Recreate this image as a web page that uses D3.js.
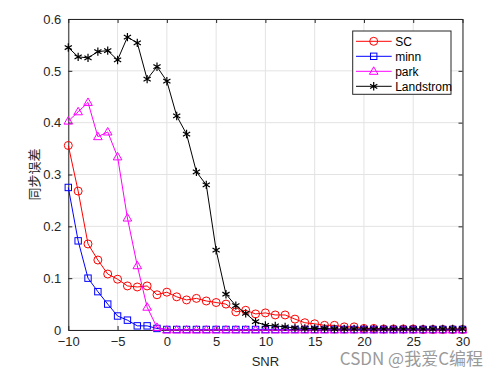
<!DOCTYPE html>
<html>
<head>
<meta charset="utf-8">
<script src="https://cdn.jsdelivr.net/npm/d3@7"></script>
<style>
  body { margin: 0; background: #fff; }
  svg { display: block; font-family: "Liberation Sans", Arial, sans-serif; }
</style>
</head>
<body>
<div id="chart"></div>
<script>
const snr = d3.range(-10, 31);

const sc = [0.356, 0.268, 0.166, 0.135, 0.108, 0.098, 0.085, 0.083, 0.085, 0.068, 0.073,
  0.064, 0.058, 0.061, 0.056, 0.053, 0.050, 0.035, 0.038, 0.031, 0.033,
  0.029, 0.029, 0.021, 0.014, 0.012, 0.009, 0.009, 0.006, 0.006, 0.003,
  0.003, 0.002, 0.002, 0.002, 0.002, 0.001, 0.001, 0.001, 0.001, 0.001];
const minn = [0.275, 0.172, 0.100, 0.074, 0.050, 0.027, 0.019, 0.008, 0.008, 0.003, 0.001,
  0.001, 0.001, 0.001, 0.001, 0.001, 0.001, 0.001, 0.001, 0.001, 0.001,
  0.001, 0.001, 0.001, 0.001, 0.001, 0.001, 0.001, 0.001, 0.001, 0.001,
  0.001, 0.001, 0.001, 0.001, 0.001, 0.001, 0.001, 0.001, 0.001, 0.001];
const park = [0.403, 0.421, 0.439, 0.373, 0.382, 0.334, 0.216, 0.124, 0.044, 0.005, 0,
  0, 0, 0, 0, 0, 0, 0, 0, 0, 0,
  0, 0, 0, 0, 0, 0, 0, 0, 0, 0,
  0, 0, 0, 0, 0, 0, 0, 0, 0, 0];
const landstrom = [0.545, 0.527, 0.525, 0.537, 0.539, 0.521, 0.565, 0.554, 0.484, 0.508, 0.480,
  0.413, 0.378, 0.305, 0.280, 0.154, 0.069, 0.047, 0.032, 0.016, 0.009,
  0.008, 0.006, 0.004, 0.003, 0.003, 0.003, 0.002, 0.002, 0.002, 0.002,
  0.002, 0.002, 0.002, 0.002, 0.002, 0.002, 0.002, 0.002, 0.002, 0.002];

const seriesNames = ["SC", "minn", "park", "Landstrom"];
const seriesColors = ["#ff0000", "#0000ff", "#ff00ff", "#000000"];
const seriesMarkers = ["circle", "square", "triangle", "asterisk"];
const xTicks = [-10, -5, 0, 5, 10, 15, 20, 25, 30];
const yTicks = [0, 0.1, 0.2, 0.3, 0.4, 0.5, 0.6];

const series = [sc, minn, park, landstrom].map((vals, i) => ({
  name: seriesNames[i], color: seriesColors[i], marker: seriesMarkers[i],
  points: vals.map((v, j) => ({ x: snr[j], y: v }))
}));

const W = 499, H = 375;
const margin = { top: 19, right: 36.5, bottom: 45, left: 68.3 };
const width = W - margin.left - margin.right;
const height = H - margin.top - margin.bottom;

const svg = d3.select("#chart").append("svg")
  .attr("width", W).attr("height", H);

const g = svg.append("g")
  .attr("transform", `translate(${margin.left},${margin.top})`);

const x = d3.scaleLinear().domain([-10, 30]).range([0, width]);
const y = d3.scaleLinear().domain([0, 0.6]).range([height, 0]);

// grid
g.append("g").selectAll("line").data(xTicks).join("line")
  .attr("x1", d => x(d)).attr("x2", d => x(d))
  .attr("y1", 0).attr("y2", height)
  .attr("stroke", "#e3e3e3").attr("stroke-width", 1);
g.append("g").selectAll("line").data(yTicks).join("line")
  .attr("x1", 0).attr("x2", width)
  .attr("y1", d => y(d)).attr("y2", d => y(d))
  .attr("stroke", "#e3e3e3").attr("stroke-width", 1);

// axes
const axisColor = "#262626";
const xAxis = g.append("g").attr("transform", `translate(0,${height})`)
  .call(d3.axisBottom(x).tickValues(xTicks).tickSizeInner(-4).tickSizeOuter(0).tickPadding(7).tickFormat(d3.format("d")));
const xTop = g.append("g")
  .call(d3.axisTop(x).tickValues(xTicks).tickSizeInner(-4).tickSizeOuter(0).tickFormat(""));
const yAxis = g.append("g")
  .call(d3.axisLeft(y).tickValues(yTicks).tickSizeInner(-4).tickSizeOuter(0).tickPadding(7).tickFormat(d => d === 0 ? "0" : d3.format(".1f")(d)));
const yRight = g.append("g").attr("transform", `translate(${width},0)`)
  .call(d3.axisRight(y).tickValues(yTicks).tickSizeInner(-4).tickSizeOuter(0).tickFormat(""));

[xAxis, xTop, yAxis, yRight].forEach(a => {
  a.select(".domain").attr("stroke", axisColor);
  a.selectAll(".tick line").attr("stroke", axisColor);
  a.selectAll("text").attr("fill", "#262626").style("font-size", "13px")
    .style("font-family", "'Liberation Sans', Arial, sans-serif");
});

// markers
function drawMarker(sel, type, color) {
  if (type === "circle") {
    sel.append("circle").attr("r", 4).attr("fill", "none").attr("stroke", color).attr("stroke-width", 1);
  } else if (type === "square") {
    sel.append("rect").attr("x", -3.2).attr("y", -3.2).attr("width", 6.4).attr("height", 6.4)
      .attr("fill", "none").attr("stroke", color).attr("stroke-width", 1);
  } else if (type === "triangle") {
    sel.append("path").attr("d", "M0,-4.5L4.3,3L-4.3,3Z")
      .attr("fill", "none").attr("stroke", color).attr("stroke-width", 1);
  } else {
    sel.append("path").attr("d", "M0,-4.2V4.2M-3.6,-2.1L3.6,2.1M-3.6,2.1L3.6,-2.1")
      .attr("stroke", color).attr("stroke-width", 1.2);
  }
}

const line = d3.line().x(d => x(d.x)).y(d => y(d.y));

series.forEach(s => {
  const sg = g.append("g");
  sg.append("path").datum(s.points)
    .attr("d", line).attr("fill", "none")
    .attr("stroke", s.color).attr("stroke-width", 1);
  sg.selectAll("g.pt").data(s.points).join("g")
    .attr("class", "pt")
    .attr("transform", d => `translate(${x(d.x)},${y(d.y)})`)
    .each(function () { drawMarker(d3.select(this), s.marker, s.color); });
});

// legend
const lg = svg.append("g").attr("transform", "translate(352.7,31)");
lg.append("rect").attr("width", 98.3).attr("height", 63.3)
  .attr("fill", "#fff").attr("stroke", "#262626").attr("stroke-width", 1);
series.forEach((s, i) => {
  const row = lg.append("g").attr("transform", `translate(0,${10.3 + i * 15})`);
  row.append("line").attr("x1", 3.3).attr("x2", 39).attr("y1", 0).attr("y2", 0)
    .attr("stroke", s.color).attr("stroke-width", 1);
  drawMarker(row.append("g").attr("transform", "translate(21,0)"), s.marker, s.color);
  row.append("text").attr("x", 42.5).attr("y", 4.3)
    .attr("fill", "#000").style("font-size", "12px").text(s.name);
});

// labels
svg.append("text")
  .attr("x", x(10) + margin.left).attr("y", 366)
  .attr("text-anchor", "middle").attr("fill", "#262626")
  .style("font-size", "13px").text("SNR");

svg.append("text")
  .attr("transform", `translate(39,${margin.top + height / 2}) rotate(-90)`)
  .attr("text-anchor", "middle").attr("fill", "#262626")
  .style("font-family", "'Noto Sans CJK SC', sans-serif")
  .style("font-size", "13px").text("同步误差");

// watermark
svg.append("text")
  .attr("x", 483).attr("y", 365)
  .attr("text-anchor", "end").attr("fill", "#9a9a9a")
  .style("font-family", "'Noto Sans CJK SC', 'Liberation Sans', sans-serif")
  .style("font-size", "17px").text("CSDN @我爱C编程");
</script>
</body>
</html>
